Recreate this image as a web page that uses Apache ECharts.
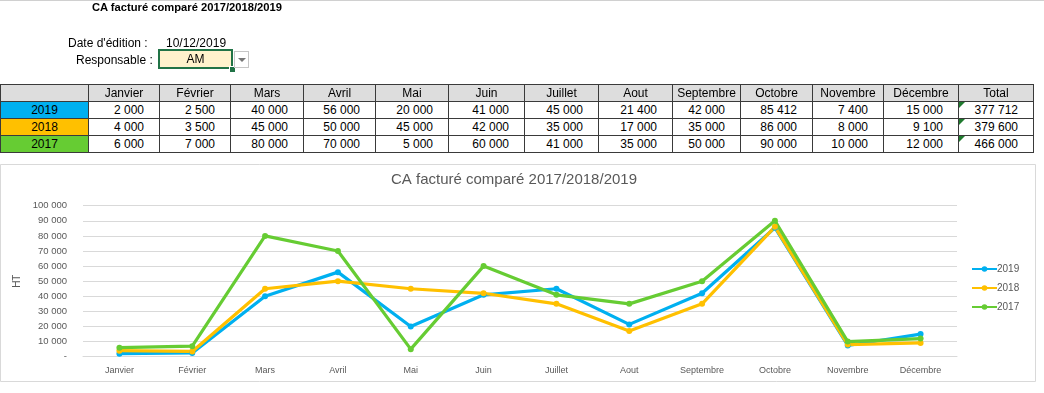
<!DOCTYPE html>
<html><head><meta charset="utf-8">
<script src="https://cdn.jsdelivr.net/npm/echarts@6/dist/echarts.min.js"></script>
<style>
html,body{margin:0;padding:0;background:#fff;width:1044px;height:393px;overflow:hidden;font-family:"Liberation Sans",Arial,sans-serif;}
#chart{position:absolute;left:0;top:0;width:1044px;height:393px;}
.t{position:absolute;white-space:nowrap;color:#000;font-size:12px;line-height:1;}
.cell{position:absolute;box-sizing:border-box;border:1px solid #3a3a3a;font-size:12px;color:#000;display:flex;align-items:center;white-space:nowrap;}
.tri{position:absolute;width:0;height:0;border-top:6px solid #1f7a2e;border-right:6px solid transparent;}
</style></head>
<body>
<div id="chart"></div>
<div id="sheet"></div>
<script>
const months = ["Janvier","Février","Mars","Avril","Mai","Juin","Juillet","Aout","Septembre","Octobre","Novembre","Décembre"];
const years = ["2019","2018","2017"];
const v2019 = [2000,2500,40000,56000,20000,41000,45000,21400,42000,85412,7400,15000];
const v2018 = [4000,3500,45000,50000,45000,42000,35000,17000,35000,86000,8000,9100];
const v2017 = [6000,7000,80000,70000,5000,60000,41000,35000,50000,90000,10000,12000];
const totals = [377712,379600,466000];
const yTicks = [0,10000,20000,30000,40000,50000,60000,70000,80000,90000,100000];
const colors = {"2019":"#00B0F0","2018":"#FFC000","2017":"#66CC33"};

function fmt(n){return String(n).replace(/\B(?=(\d{3})+(?!\d))/g,"\u00a0");}

// ---------- sheet part (HTML) ----------
const sheet = document.getElementById('sheet');
function addText(txt, x, y, css){
  const d=document.createElement('div');d.className='t';d.textContent=txt;
  d.style.left=x+'px';d.style.top=y+'px';
  if(css) Object.assign(d.style,css);
  sheet.appendChild(d);return d;
}
const topLine=document.createElement('div');
Object.assign(topLine.style,{position:'absolute',left:'0',top:'0',width:'1044px',height:'1px',background:'#d0d0d0'});
sheet.appendChild(topLine);
addText("CA facturé comparé 2017/2018/2019",92,2,{fontWeight:'bold',fontSize:'11.2px'});
addText("Date d'édition :",68,37,{});
addText("10/12/2019",166,37,{});
addText("Responsable :",76,54,{});
const amBox=document.createElement('div');
Object.assign(amBox.style,{position:'absolute',left:'158px',top:'49px',width:'75px',height:'20px',boxSizing:'border-box',border:'2px solid #217346',background:'#FFF2CC',display:'flex',alignItems:'center',justifyContent:'center',fontSize:'12px'});
amBox.textContent="AM";sheet.appendChild(amBox);
const handle=document.createElement('div');
Object.assign(handle.style,{position:'absolute',left:'229px',top:'66px',width:'5px',height:'5px',background:'#217346',border:'1px solid #fff'});
sheet.appendChild(handle);
const dd=document.createElement('div');
Object.assign(dd.style,{position:'absolute',left:'234px',top:'51px',width:'15px',height:'17px',boxSizing:'border-box',border:'1px solid #c6c6c6',background:'#fff'});
sheet.appendChild(dd);
const arrow=document.createElement('div');
Object.assign(arrow.style,{position:'absolute',left:'238px',top:'58px',width:'0',height:'0',borderLeft:'4px solid transparent',borderRight:'4px solid transparent',borderTop:'4px solid #777'});
sheet.appendChild(arrow);

const colX=[0,88,159,230,303,375,448,524,598,672,740,812,883,958,1033];
const rowY=[84,101,118,135,152];
function cell(ci,ri,txt,opts){
  const d=document.createElement('div');d.className='cell';
  const x0=colX[ci],x1=colX[ci+1],y0=rowY[ri],y1=rowY[ri+1];
  Object.assign(d.style,{left:x0+'px',top:y0+'px',width:(x1-x0+1)+'px',height:(y1-y0+1)+'px'});
  d.textContent=txt;
  if(opts.bg) d.style.background=opts.bg;
  if(opts.align==='right'){d.style.justifyContent='flex-end';d.style.paddingRight='15px';}
  else d.style.justifyContent='center';
  sheet.appendChild(d);
}
cell(0,0,"",{bg:'#DDDDDD'});
months.forEach((m,i)=>cell(i+1,0,m,{bg:'#DDDDDD'}));
cell(13,0,"Total",{bg:'#DDDDDD'});
const rows=[v2019,v2018,v2017];
rows.forEach((vals,r)=>{
  cell(0,r+1,years[r],{bg:colors[years[r]]});
  vals.forEach((v,i)=>cell(i+1,r+1,fmt(v),{bg:'#fff',align:'right'}));
  cell(13,r+1,fmt(totals[r]),{bg:'#fff',align:'right'});
  const t=document.createElement('div');t.className='tri';
  t.style.left=(colX[13]+1)+'px';t.style.top=(rowY[r+1]+1)+'px';sheet.appendChild(t);
});

// ---------- chart ----------
const chart = echarts.init(document.getElementById('chart'),null,{renderer:'canvas'});
const seriesData = {"2019":v2019,"2018":v2018,"2017":v2017};
chart.setOption({
  animation:false,
  graphic:[{type:'rect',shape:{x:0.5,y:164.5,width:1035,height:217},style:{fill:'#fff',stroke:'#d9d9d9',lineWidth:1},z:-10}],
  title:{text:"CA facturé comparé 2017/2018/2019",top:172,left:391,
    textStyle:{fontSize:15,fontWeight:'normal',color:'#595959',fontFamily:'Liberation Sans'},
    padding:0},
  legend:{orient:'vertical',left:971,top:264,itemWidth:25,itemHeight:7,itemGap:9,padding:0,
    textStyle:{fontSize:10,color:'#595959',padding:[0,0,0,-5]},
    data:years},
  grid:{left:83,right:87,top:205.7,bottom:36.3},
  xAxis:{type:'category',data:months,boundaryGap:true,
    axisLine:{lineStyle:{color:'#d9d9d9'}},axisTick:{show:false},
    axisLabel:{fontSize:9,color:'#595959',margin:9,interval:0}},
  yAxis:{type:'value',min:0,max:100000,interval:10000,
    name:'HT',nameLocation:'middle',nameGap:56,nameRotate:90,
    nameTextStyle:{fontSize:10,color:'#595959'},
    axisLine:{show:false},axisTick:{show:false},
    splitLine:{lineStyle:{color:'#d9d9d9'}},
    axisLabel:{fontSize:9.5,color:'#595959',margin:16,
      formatter:v=>v===0?'-':fmt(v)}},
  series:years.map(y=>({name:y,type:'line',data:seriesData[y],
    symbol:'circle',symbolSize:6,
    lineStyle:{width:3.2,color:colors[y]},itemStyle:{color:colors[y]}}))
});
</script>
</body></html>
